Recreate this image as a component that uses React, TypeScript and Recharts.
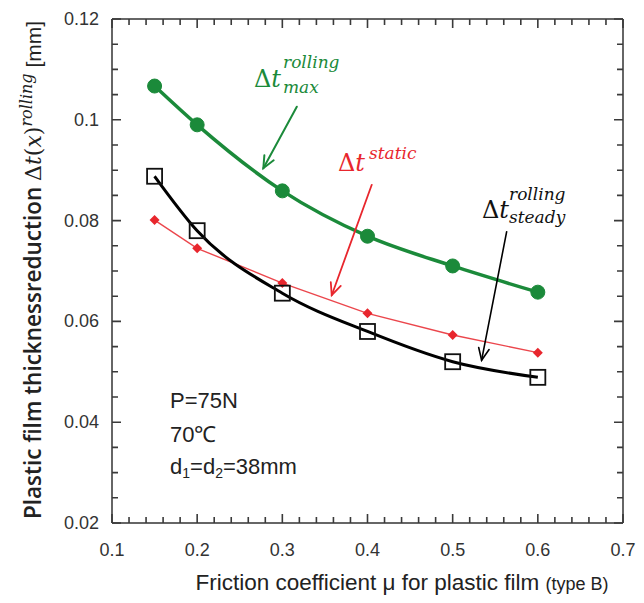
import {
  LineChart,
  Line,
  XAxis,
  YAxis,
  ReferenceLine,
} from "recharts";

// ─── Data ────────────────────────────────────────────────────────────────────

const mu = [0.15, 0.2, 0.3, 0.4, 0.5, 0.6];
const maxRolling = [0.1067, 0.099, 0.0859, 0.0769, 0.071, 0.0658];
const staticReduction = [0.0801, 0.0745, 0.0676, 0.0616, 0.0573, 0.0538];
const steadyRolling = [0.0888, 0.078, 0.0656, 0.058, 0.052, 0.0489];

const xTicks = Array.from({ length: 31 }, (_, i) => +(0.1 + i * 0.02).toFixed(2));
const yTicks = Array.from({ length: 21 }, (_, i) => +(0.02 + i * 0.005).toFixed(3));
const xMajor = [0.1, 0.2, 0.3, 0.4, 0.5, 0.6, 0.7];
const yMajor = [0.02, 0.04, 0.06, 0.08, 0.1, 0.12];

// arrow segments in data units: [from, to]
const arrowMax = [{ x: 0.317, y: 0.1026 }, { x: 0.2777, y: 0.0904 }];
const arrowStatic = [{ x: 0.405, y: 0.0871 }, { x: 0.358, y: 0.0652 }];
const arrowSteady = [{ x: 0.5634, y: 0.0778 }, { x: 0.534, y: 0.0523 }];

const data = mu.map((m, i) => ({
  mu: m,
  max: maxRolling[i],
  stat: staticReduction[i],
  steady: steadyRolling[i],
}));

const GREEN = "#1b8a3a";
const RED = "#e8262d";
const AXIS = "#333";
const SANS = "'Liberation Sans', Arial, sans-serif";
const SERIF = "'DejaVu Serif', serif";

const X_MIN = 0.1, X_MAX = 0.7, Y_MIN = 0.02, Y_MAX = 0.12;
const MARGIN = { top: 18, right: 20, bottom: 79, left: 111 };
const W = 644, H = 603;
// plot rectangle (axes are 1px wide/high)
const PL = MARGIN.left + 1, PT = MARGIN.top + 1;
const PR = W - MARGIN.right - 1, PB = H - MARGIN.bottom - 1;
const sx = (v: number) => PL + ((v - X_MIN) / (X_MAX - X_MIN)) * (PR - PL);
const sy = (v: number) => PB - ((v - Y_MIN) / (Y_MAX - Y_MIN)) * (PB - PT);

const isIn = (list: number[], v: number) => list.some((m) => Math.abs(m - v) < 1e-6);
const tickLen = (major: boolean) => (major ? 9 : 6);

// ─── Tick labels ─────────────────────────────────────────────────────────────

function BottomLabel({ x, y, payload }: any) {
  if (!isIn(xMajor, payload.value)) return <g />;
  return (
    <text x={x} y={y + 33} textAnchor="middle" fontFamily={SANS} fontSize={18} fill="#333">
      {String(payload.value)}
    </text>
  );
}

function LeftLabel({ x, y, payload }: any) {
  if (!isIn(yMajor, payload.value)) return <g />;
  return (
    <text x={x - 13} y={y + 6} textAnchor="end" fontFamily={SANS} fontSize={18} fill="#333">
      {String(payload.value)}
    </text>
  );
}

// inward tick marks on the frame
function FrameTicks() {
  const d: string[] = [];
  xTicks.forEach((t) => {
    const l = tickLen(isIn(xMajor, t));
    const x = sx(t);
    d.push(`M${x},${PB}v${-l}`, `M${x},${PT}v${l}`);
  });
  yTicks.forEach((t) => {
    const l = tickLen(isIn(yMajor, t));
    const y = sy(t);
    d.push(`M${PL},${y}h${l}`, `M${PR},${y}h${-l}`);
  });
  return <path d={d.join("")} stroke="#3a3a3a" strokeWidth={1.6} fill="none" />;
}

// ─── Markers ─────────────────────────────────────────────────────────────────

function CircleDot({ cx, cy }: any) {
  return <circle cx={cx} cy={cy} r={7} fill={GREEN} stroke={GREEN} />;
}

function DiamondDot({ cx, cy }: any) {
  const s = 5;
  return (
    <polygon
      points={`${cx},${cy - s} ${cx + s},${cy} ${cx},${cy + s} ${cx - s},${cy}`}
      fill={RED}
    />
  );
}

function SquareDot({ cx, cy }: any) {
  return (
    <rect x={cx - 7.5} y={cy - 7.5} width={15} height={15} fill="none" stroke="#111" strokeWidth={1.8} />
  );
}

// ─── Annotation arrows ───────────────────────────────────────────────────────

function arrowShape(color: string, width: number) {
  return (props: any) => {
    const { x1, y1, x2, y2 } = props;
    const ang = Math.atan2(y2 - y1, x2 - x1);
    const len = 13;
    const spread = 0.42;
    const ax = x2 - len * Math.cos(ang - spread);
    const ay = y2 - len * Math.sin(ang - spread);
    const bx = x2 - len * Math.cos(ang + spread);
    const by = y2 - len * Math.sin(ang + spread);
    return (
      <g stroke={color} strokeWidth={width} fill="none" strokeLinecap="round">
        <line x1={x1} y1={y1} x2={x2} y2={y2} />
        <polyline points={`${ax},${ay} ${x2},${y2} ${bx},${by}`} />
      </g>
    );
  };
}

// ─── Main ────────────────────────────────────────────────────────────────────

export default function App() {
  return (
    <div style={{ position: "absolute", left: 0, top: 0, width: W, height: H, background: "#fff" }}>
      <LineChart width={W} height={H} data={data} margin={MARGIN}>
        <XAxis
          dataKey="mu"
          type="number"
          domain={[X_MIN, X_MAX]}
          ticks={xTicks}
          interval={0}
          height={1}
          tickSize={0}
          tickMargin={0}
          tickLine={false}
          tick={(p: any) => <BottomLabel {...p} />}
          axisLine={{ stroke: AXIS, strokeWidth: 1.5 }}
        />
        <XAxis
          xAxisId="top"
          orientation="top"
          dataKey="mu"
          type="number"
          domain={[X_MIN, X_MAX]}
          height={1}
          tick={false}
          tickLine={false}
          axisLine={{ stroke: AXIS, strokeWidth: 1.5 }}
        />
        <YAxis
          type="number"
          domain={[Y_MIN, Y_MAX]}
          ticks={yTicks}
          interval={0}
          width={1}
          tickSize={0}
          tickMargin={0}
          tickLine={false}
          tick={(p: any) => <LeftLabel {...p} />}
          axisLine={{ stroke: AXIS, strokeWidth: 1.5 }}
        />
        <YAxis
          yAxisId="right"
          orientation="right"
          type="number"
          domain={[Y_MIN, Y_MAX]}
          width={1}
          tick={false}
          tickLine={false}
          axisLine={{ stroke: AXIS, strokeWidth: 1.5 }}
        />

        <Line
          dataKey="stat"
          type="linear"
          stroke={RED}
          strokeOpacity={0.85}
          strokeWidth={1.4}
          dot={(p: any) => <DiamondDot key={`d${p.index}`} {...p} />}
          isAnimationActive={false}
        />
        <Line
          dataKey="steady"
          type="monotone"
          stroke="#000"
          strokeWidth={3}
          dot={(p: any) => <SquareDot key={`s${p.index}`} {...p} />}
          isAnimationActive={false}
        />
        <Line
          dataKey="max"
          type="monotone"
          stroke={GREEN}
          strokeWidth={3.5}
          dot={(p: any) => <CircleDot key={`c${p.index}`} {...p} />}
          isAnimationActive={false}
        />

        <ReferenceLine segment={arrowMax} shape={arrowShape(GREEN, 2)} />
        <ReferenceLine segment={arrowStatic} shape={arrowShape(RED, 1.8)} />
        <ReferenceLine segment={arrowSteady} shape={arrowShape("#000", 1.6)} />
      </LineChart>

      <svg
        width={W}
        height={H}
        style={{ position: "absolute", left: 0, top: 0, pointerEvents: "none" }}
      >
        <FrameTicks />

        {/* y-axis title */}
        <text
          transform="translate(41, 270) rotate(-90)"
          textAnchor="middle"
          fontFamily="'Open Sans', sans-serif"
          fontWeight={600}
          fontSize={22.5}
          fill="#222"
        >
          Plastic film thicknessreduction{" "}
          <tspan fontFamily={SERIF} fontWeight={400} fontSize={22}>Δ</tspan>
          <tspan fontFamily={SERIF} fontWeight={400} fontSize={22} fontStyle="italic">t</tspan>
          <tspan fontFamily={SERIF} fontWeight={400} fontSize={22}>(</tspan>
          <tspan fontFamily={SERIF} fontWeight={400} fontSize={22} fontStyle="italic">x</tspan>
          <tspan fontFamily={SERIF} fontWeight={400} fontSize={22}>)</tspan>
          <tspan fontFamily={SERIF} fontWeight={400} fontStyle="italic" fontSize={16} dy={-9}>
            rolling
          </tspan>
          <tspan fontFamily={SANS} fontWeight={400} fontSize={21} dy={9}> [mm]</tspan>
        </text>

        {/* x-axis title */}
        <text x={402} y={590} textAnchor="middle" fontFamily={SANS} fontSize={22.5} fill="#222">
          Friction coefficient μ for plastic film <tspan fontSize={18}>(type B)</tspan>
        </text>

        {/* condition notes */}
        <g fontFamily={SANS} fontSize={22} fill="#222">
          <text x={170} y={408}>P=75N</text>
          <text x={170} y={442}>70℃</text>
          <text x={170} y={474}>
            d<tspan fontSize={14} dy={4}>1</tspan>
            <tspan dy={-4}>=d</tspan>
            <tspan fontSize={14} dy={4}>2</tspan>
            <tspan dy={-4}>=38mm</tspan>
          </text>
        </g>

        {/* series labels */}
        <g fontFamily={SERIF} fill={GREEN}>
          <text x={254} y={87} fontSize={24}>
            Δ<tspan fontStyle="italic">t</tspan>
          </text>
          <text x={283} y={68} fontSize={17} fontStyle="italic">rolling</text>
          <text x={283} y={93} fontSize={17} fontStyle="italic">max</text>
        </g>
        <g fontFamily={SERIF} fill={RED}>
          <text x={338} y={171} fontSize={24}>
            Δ<tspan fontStyle="italic">t</tspan>
          </text>
          <text x={369} y={159} fontSize={17} fontStyle="italic">static</text>
        </g>
        <g fontFamily={SERIF} fill="#111">
          <text x={482} y={218} fontSize={24}>
            Δ<tspan fontStyle="italic">t</tspan>
          </text>
          <text x={509} y={200} fontSize={17} fontStyle="italic">rolling</text>
          <text x={509} y={223} fontSize={17} fontStyle="italic">steady</text>
        </g>
      </svg>
    </div>
  );
}
